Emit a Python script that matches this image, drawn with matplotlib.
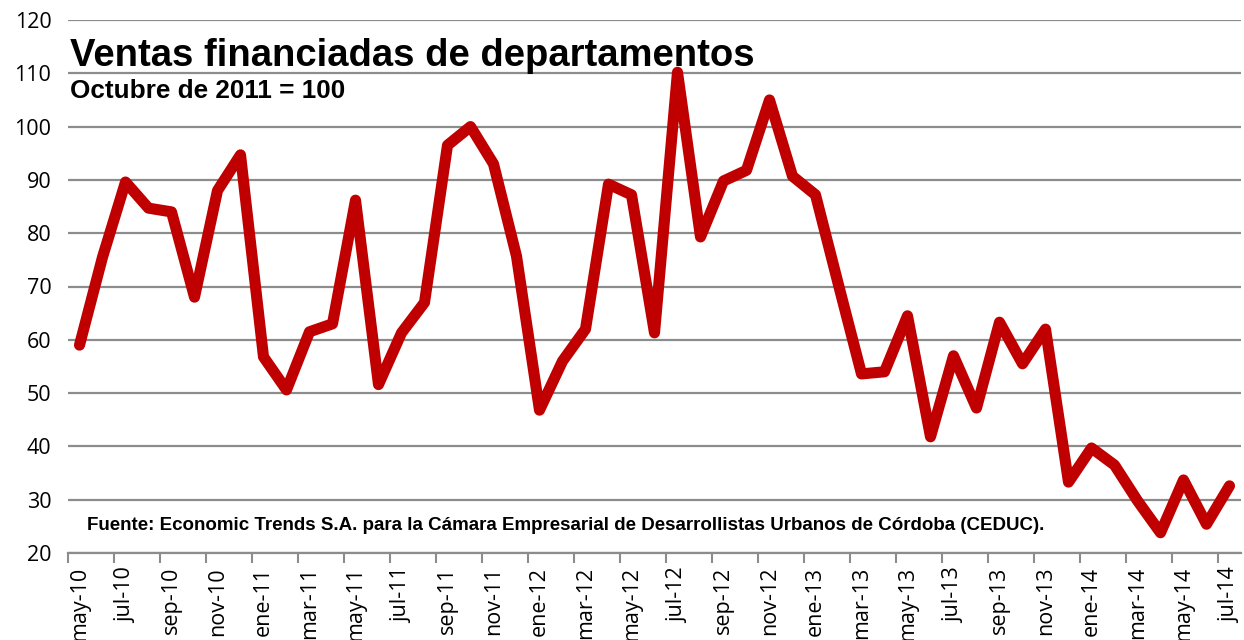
import numpy as np
import matplotlib.pyplot as plt

# =========================================================
# Data: Ventas financiadas de departamentos (Oct 2011 = 100)
# =========================================================
month_names = ["ene", "feb", "mar", "abr", "may", "jun",
               "jul", "ago", "sep", "oct", "nov", "dic"]

start_year = 10
start_month = 4  # may

index_values = [
    59.0, 75.5, 89.6, 84.7, 84.0, 68.0, 88.0, 94.7,      # may-10 .. dic-10
    56.8, 50.6, 61.5, 63.0, 86.2, 51.6, 61.3, 67.0,      # ene-11 .. ago-11
    96.5, 100.0, 93.0, 75.7,                             # sep-11 .. dic-11
    46.8, 56.0, 62.0, 89.2, 87.2, 61.3, 110.2, 79.3,     # ene-12 .. ago-12
    89.8, 91.8, 105.0, 90.7,                             # sep-12 .. dic-12
    87.2, 70.3, 53.6, 54.0, 64.5, 41.8, 57.0, 47.2,      # ene-13 .. ago-13
    63.3, 55.5, 62.0, 33.3,                              # sep-13 .. dic-13
    39.7, 36.5, 29.8, 23.8, 33.7, 25.4, 32.6,            # ene-14 .. jul-14
]

month_labels = []
for i in range(len(index_values)):
    m = (start_month + i) % 12
    y = start_year + (start_month + i) // 12
    month_labels.append(f"{month_names[m]}-{y}")

y_ticks = [20, 30, 40, 50, 60, 70, 80, 90, 100, 110, 120]

# =========================================================
# Plot
# =========================================================
fig = plt.figure(figsize=(12.44, 6.40), dpi=100)
ax = fig.add_axes([68 / 1244, 1 - 553 / 640, (1241 - 68) / 1244, (553 - 20) / 640])

x = np.arange(len(index_values))
ax.plot(x, index_values, color="#C00000", linewidth=8,
        solid_joinstyle="round", solid_capstyle="round", zorder=3)

ax.set_xlim(-0.5, len(index_values) - 0.5)
ax.set_ylim(20, 120)

ax.set_yticks(y_ticks)
ax.set_yticklabels([str(v) for v in y_ticks], fontsize=15.5,
                   family=["Open Sans", "DejaVu Sans"], color="#000000")
ax.tick_params(axis="y", length=0, pad=12)

ax.set_xticks(x[::2])
ax.set_xticklabels(month_labels[::2], rotation=90, fontsize=15.5,
                   family=["Open Sans", "DejaVu Sans"], color="#000000")
ax.set_xticks(np.arange(-0.5, len(index_values), 2), minor=True)
ax.tick_params(axis="x", which="major", length=0, pad=10)
ax.tick_params(axis="x", which="minor", length=7, width=1.5, color="#8C8C8C")

ax.grid(axis="y", color="#8C8C8C", linewidth=1.6, zorder=1)
ax.set_axisbelow(True)

for side in ["left", "right", "top"]:
    ax.spines[side].set_visible(False)
ax.spines["bottom"].set_color("#8C8C8C")
ax.spines["bottom"].set_linewidth(1.6)

# Titles and source
fig.text(70 / 1244, 1 - 66 / 640, "Ventas financiadas de departamentos",
         fontsize=27.5, fontweight="bold", family="Liberation Sans", ha="left")
fig.text(70 / 1244, 1 - 98 / 640, "Octubre de 2011 = 100",
         fontsize=18.8, fontweight="bold", family="Liberation Sans", ha="left")
fig.text(87 / 1244, 1 - 530 / 640,
         "Fuente: Economic Trends S.A. para la Cámara Empresarial de "
         "Desarrollistas Urbanos de Córdoba (CEDUC).",
         fontsize=13.5, fontweight="bold", family="Liberation Sans", ha="left")

plt.savefig("out.png", dpi=100)
